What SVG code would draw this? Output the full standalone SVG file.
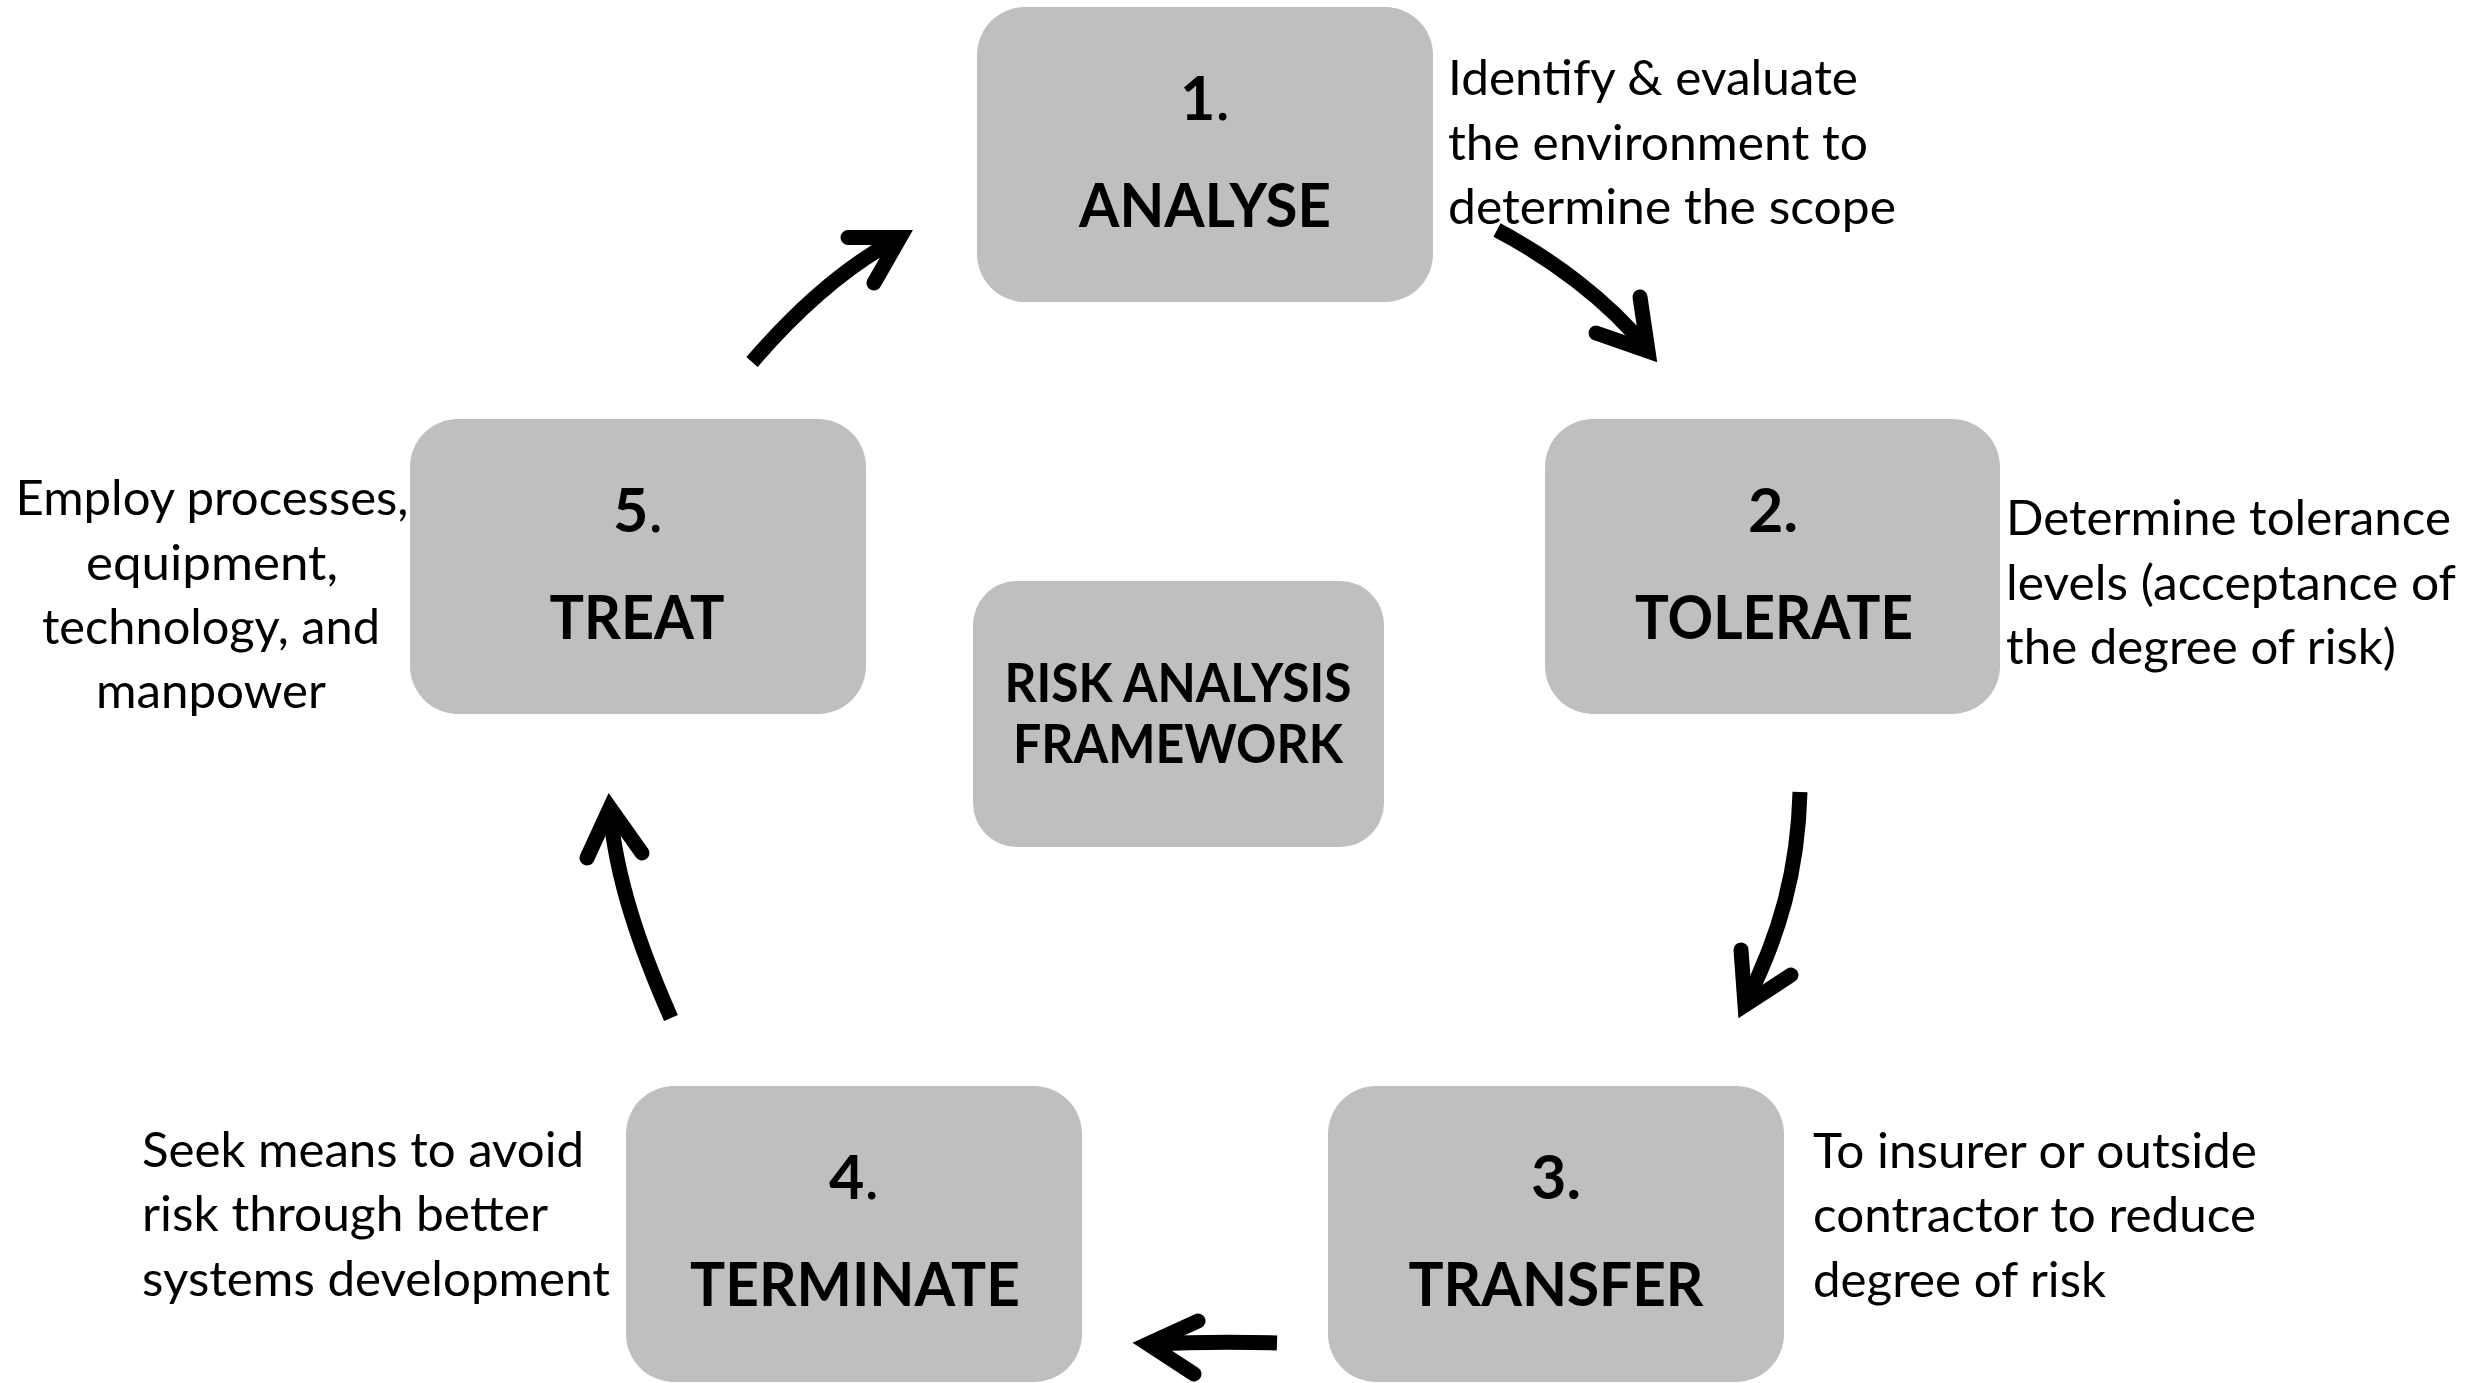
<svg xmlns="http://www.w3.org/2000/svg" width="2471" height="1383" viewBox="0 0 2471 1383">
  <style>
    .box { fill: #bfbfbf; }
    .num { font-family: Lato, "Open Sans", sans-serif; font-weight: 700; font-size: 61px; fill: #000; text-anchor: middle; }
    .dot { font-weight: 400; }
    .title { font-family: Lato, "Open Sans", sans-serif; font-weight: 700; font-size: 62px; fill: #000; text-anchor: middle; }
    .center { font-family: Lato, "Open Sans", sans-serif; font-weight: 700; font-size: 54px; fill: #000; text-anchor: middle; }
    .desc { font-family: Lato, "Open Sans", sans-serif; font-weight: 400; font-size: 48px; fill: #000; }
    .mid { text-anchor: middle; }
    .shaft { fill: none; stroke: #000; stroke-width: 15; stroke-linecap: butt; }
    .head { fill: none; stroke: #000; stroke-width: 15; stroke-linecap: round; stroke-linejoin: miter; stroke-miterlimit: 10; }
  </style>
  <rect width="2471" height="1383" fill="#ffffff"/>

  <!-- cycle arrows -->
  <g id="connectors">
    <g id="treat-to-analyse">
      <path class="shaft" d="M752,362 C795,312 842,268 899,238"/>
      <polyline class="head" points="848,237.5 900,237.5 874,283"/>
    </g>
    <g id="analyse-to-tolerate">
      <path class="shaft" d="M1497,230 C1550,258 1608,300 1647,349"/>
      <polyline class="head" points="1640,297 1648,351 1596,333"/>
    </g>
    <g id="tolerate-to-transfer">
      <path class="shaft" d="M1800,792 C1798,870 1780,935 1745,1004"/>
      <polyline class="head" points="1741,950 1745,1005 1791,975"/>
    </g>
    <g id="transfer-to-terminate">
      <path class="shaft" d="M1277,1343 Q1215,1341 1150,1344"/>
      <polyline class="head" points="1198,1321 1148,1344 1194,1374"/>
    </g>
    <g id="terminate-to-treat">
      <path class="shaft" d="M671,1018 C641,950 616,880 610,810"/>
      <polyline class="head" points="587,858 610,808 642,853"/>
    </g>
  </g>

  <!-- step 1 -->
  <g id="analyse">
    <rect class="box" x="977" y="7" width="456" height="295" rx="48"/>
    <text class="num" x="1205" y="120">1<tspan class="dot">.</tspan></text>
    <text class="title" x="1205" y="227" textLength="252" lengthAdjust="spacingAndGlyphs">ANALYSE</text>
    <text class="desc" x="1448" y="95" textLength="410" lengthAdjust="spacingAndGlyphs">Identify &amp; evaluate</text>
    <text class="desc" x="1448" y="160" textLength="420" lengthAdjust="spacingAndGlyphs">the environment to</text>
    <text class="desc" x="1448" y="224" textLength="448" lengthAdjust="spacingAndGlyphs">determine the scope</text>
  </g>

  <!-- step 2 -->
  <g id="tolerate">
    <rect class="box" x="1545" y="419" width="455" height="295" rx="48"/>
    <text class="num" x="1773" y="532">2.</text>
    <text class="title" x="1774" y="639" textLength="278" lengthAdjust="spacingAndGlyphs">TOLERATE</text>
    <text class="desc" x="2006" y="535" textLength="445" lengthAdjust="spacingAndGlyphs">Determine tolerance</text>
    <text class="desc" x="2006" y="600" textLength="450" lengthAdjust="spacingAndGlyphs">levels (acceptance of</text>
    <text class="desc" x="2006" y="664" textLength="390" lengthAdjust="spacingAndGlyphs">the degree of risk)</text>
  </g>

  <!-- step 3 -->
  <g id="transfer">
    <rect class="box" x="1328" y="1086" width="456" height="296" rx="48"/>
    <text class="num" x="1556" y="1199">3.</text>
    <text class="title" x="1556" y="1306" textLength="295" lengthAdjust="spacingAndGlyphs">TRANSFER</text>
    <text class="desc" x="1813" y="1168" textLength="444" lengthAdjust="spacingAndGlyphs">To insurer or outside</text>
    <text class="desc" x="1813" y="1232" textLength="443" lengthAdjust="spacingAndGlyphs">contractor to reduce</text>
    <text class="desc" x="1813" y="1297" textLength="293" lengthAdjust="spacingAndGlyphs">degree of risk</text>
  </g>

  <!-- step 4 -->
  <g id="terminate">
    <rect class="box" x="626" y="1086" width="456" height="296" rx="48"/>
    <text class="num" x="854" y="1199">4<tspan class="dot">.</tspan></text>
    <text class="title" x="855" y="1306" textLength="330" lengthAdjust="spacingAndGlyphs">TERMINATE</text>
    <text class="desc" x="142" y="1167" textLength="442" lengthAdjust="spacingAndGlyphs">Seek means to avoid</text>
    <text class="desc" x="142" y="1231" textLength="406" lengthAdjust="spacingAndGlyphs">risk through better</text>
    <text class="desc" x="142" y="1296" textLength="468" lengthAdjust="spacingAndGlyphs">systems development</text>
  </g>

  <!-- step 5 -->
  <g id="treat">
    <rect class="box" x="410" y="419" width="456" height="295" rx="48"/>
    <text class="num" x="638" y="532">5<tspan class="dot">.</tspan></text>
    <text class="title" x="637" y="639" textLength="175" lengthAdjust="spacingAndGlyphs">TREAT</text>
    <text class="desc mid" x="212" y="515" textLength="393" lengthAdjust="spacingAndGlyphs">Employ processes,</text>
    <text class="desc mid" x="212" y="580" textLength="252" lengthAdjust="spacingAndGlyphs">equipment,</text>
    <text class="desc mid" x="211" y="644" textLength="338" lengthAdjust="spacingAndGlyphs">technology, and</text>
    <text class="desc mid" x="211" y="708" textLength="230" lengthAdjust="spacingAndGlyphs">manpower</text>
  </g>

  <!-- central label -->
  <g id="framework">
    <rect class="box" x="973" y="581" width="411" height="266" rx="44"/>
    <text class="center" x="1178" y="702" textLength="347" lengthAdjust="spacingAndGlyphs">RISK ANALYSIS</text>
    <text class="center" x="1178" y="763" textLength="330" lengthAdjust="spacingAndGlyphs">FRAMEWORK</text>
  </g>
</svg>
